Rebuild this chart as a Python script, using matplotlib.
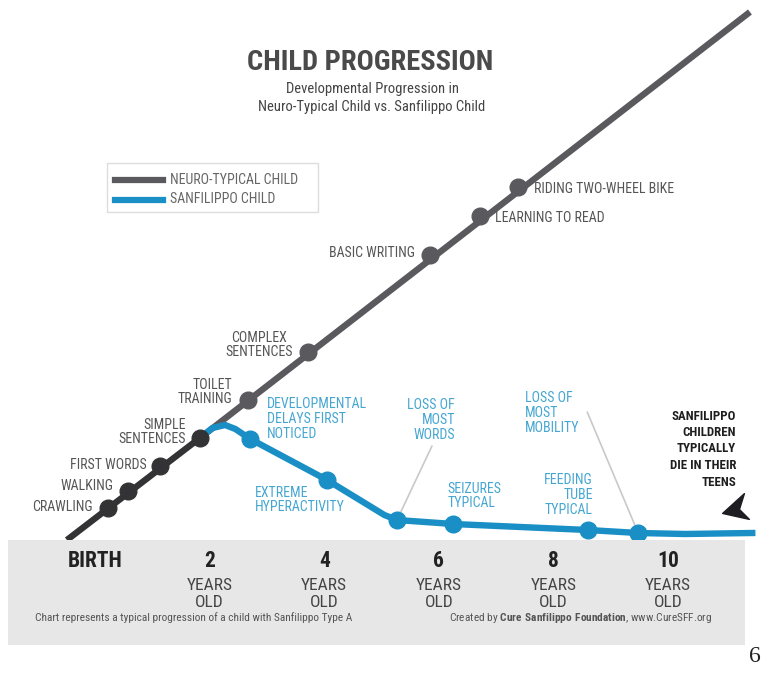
import matplotlib
matplotlib.use("Agg")
import matplotlib.pyplot as plt
from matplotlib import font_manager
from matplotlib.patches import Rectangle
from matplotlib.path import Path

# ---- data ---------------------------------------------------------------
# neuro-typical milestones: age (years), development level
neuro_labels = ["CRAWLING", "WALKING", "FIRST WORDS", "SIMPLE\nSENTENCES",
                "TOILET\nTRAINING", "COMPLEX\nSENTENCES", "BASIC WRITING",
                "LEARNING TO READ", "RIDING TWO-WHEEL BIKE"]
neuro_age = [0.23, 0.58, 1.13, 1.83, 2.67, 3.72, 5.85, 6.72, 7.38]
neuro_level = [0.64, 0.98, 1.48, 2.04, 2.80, 3.76, 5.70, 6.48, 7.06]
neuro_line_age = [-0.49, 11.43]
neuro_line_level = [0.0, 10.56]

# sanfilippo milestones
sanf_labels = ["DEVELOPMENTAL\nDELAYS FIRST\nNOTICED", "EXTREME\nHYPERACTIVITY",
               "LOSS OF\nMOST\nWORDS", "SEIZURES\nTYPICAL",
               "FEEDING\nTUBE\nTYPICAL", "LOSS OF\nMOST\nMOBILITY"]
sanf_age = [2.71, 4.05, 5.27, 6.25, 8.60, 9.48]
sanf_level = [2.02, 1.20, 0.40, 0.32, 0.20, 0.14]
# shape of the sanfilippo curve
sanf_line_age = [1.83, 2.05, 2.27, 2.45, 2.71, 4.05, 5.05, 5.27, 6.25, 8.60, 9.48, 10.3, 11.47]
sanf_line_level = [2.04, 2.24, 2.30, 2.22, 2.02, 1.20, 0.50, 0.40, 0.32, 0.20, 0.14, 0.12, 0.14]
end_point = [11.17, 0.66]

ages = [0, 2, 4, 6, 8, 10]
age_labels = ["BIRTH", "2", "4", "6", "8", "10"]

# ---- style --------------------------------------------------------------
names = {f.name for f in font_manager.fontManager.ttflist}
narrow = next((n for n in ["Roboto Condensed", "Liberation Sans Narrow",
                           "Open Sans Condensed", "Liberation Sans"] if n in names),
              "DejaVu Sans")
plt.rcParams["font.family"] = [narrow, "DejaVu Sans"]
plt.rcParams["mathtext.fontset"] = "custom"
plt.rcParams["mathtext.rm"] = narrow
plt.rcParams["mathtext.bf"] = narrow + ":bold"

GRAY = "#5a5a5e"
DARK = "#333335"
BLUE = "#1a8fc6"
BLUE_TXT = "#45a6d2"
TXT = "#555555"

W, H = 764, 673
fig = plt.figure(figsize=(W / 100, H / 100), dpi=100)
ax = fig.add_axes([0, 0, 1, 1])
ax.set_xlim(-95 / 57.3, (W - 95) / 57.3)
ax.set_ylim((540 - H) / 50, 540 / 50)
ax.axis("off")


def at(x, y):
    # pixel position -> figure fraction
    return x / W, 1 - y / H


# bottom band
ax.add_patch(Rectangle((-1.52, -2.1), 12.86, 2.1, color="#e7e7e7", zorder=5, lw=0))

# neuro-typical line: dark where both children follow the same path
split = neuro_level[3]
ax.plot([neuro_line_age[0], neuro_age[3]], [neuro_line_level[0], split],
        color=DARK, lw=4.6, solid_capstyle="butt", zorder=2)
ax.plot([neuro_age[3], neuro_line_age[1]], [split, neuro_line_level[1]],
        color=GRAY, lw=4.6, solid_capstyle="butt", zorder=2)
ax.plot(neuro_age[:4], neuro_level[:4], "o", color=DARK, ms=12, zorder=4)
ax.plot(neuro_age[4:], neuro_level[4:], "o", color=GRAY, ms=12, zorder=4)

# sanfilippo line
ax.plot(sanf_line_age, sanf_line_level, color=BLUE, lw=4.6,
        solid_joinstyle="round", zorder=3)
ax.plot(sanf_age, sanf_level, "o", color=BLUE, ms=12, zorder=4)

# neuro labels: offset in pixels, alignment
neuro_pos = [((-15, 1), "right"), ((-15, 5), "right"), ((-13, 1), "right"),
             ((-14, 6), "right"), ((-16, 8), "right"), ((-15, 7), "right"),
             ((-15, 2), "right"), ((15, -2), "left"), ((16, -2), "left")]
for lab, a, l, (off, ha) in zip(neuro_labels, neuro_age, neuro_level, neuro_pos):
    ma = "center" if lab.startswith("COMPLEX") else ha
    ax.annotate(lab, (a, l), xytext=off, textcoords="offset pixels",
                ha=ha, va="center", ma=ma, fontsize=10, color=TXT,
                linespacing=1.05, zorder=6)

sanf_pos = [((17, 20), "left", "left"), ((18, -20), "right", "left"),
            ((58, 100), "right", "right"), ((-6, 28), "left", "left"),
            ((5, 35), "right", "right"), ((-113, 120), "left", "left")]
for lab, a, l, (off, ha, ma) in zip(sanf_labels, sanf_age, sanf_level, sanf_pos):
    ax.annotate(lab, (a, l), xytext=off, textcoords="offset pixels",
                ha=ha, va="center", ma=ma, fontsize=10, color=BLUE_TXT,
                linespacing=1.05, zorder=6)

# leader lines
for i, off in [(2, (35, 74)), (5, (-51, 121))]:
    ax.annotate("", (sanf_age[i], sanf_level[i]), xytext=off,
                textcoords="offset pixels",
                arrowprops=dict(arrowstyle="-", color="#c9c9c9", lw=1.2,
                                shrinkA=0, shrinkB=6), zorder=1)

# end arrow
arrow = Path([(-13, -6), (9, 14), (4, -2), (14, -12), (-13, -6)],
             [Path.MOVETO, Path.LINETO, Path.LINETO, Path.LINETO, Path.CLOSEPOLY])
ax.plot(end_point[0], end_point[1], marker=arrow, ms=20, color="#1e1e22",
        lw=0, zorder=6)
fig.text(*at(736, 449), "SANFILIPPO\nCHILDREN\nTYPICALLY\nDIE IN THEIR\nTEENS",
         ha="right", va="center", ma="right", fontsize=9.3, fontweight="bold",
         color="#1e1e1e", linespacing=1.35)

# age axis in the band
for a, lab in zip(ages, age_labels):
    x = a * 57.3 + 95
    fig.text(*at(x, 561), lab, ha="center", va="center", fontsize=15.5,
             fontweight="bold", color="#222222", zorder=7)
    if a > 0:
        fig.text(*at(x, 594), "YEARS\nOLD", ha="center", va="center",
                 fontsize=12.5, color="#444444", linespacing=1.2, zorder=7)

# titles
fig.text(*at(370, 62), "CHILD PROGRESSION", ha="center", va="center",
         fontsize=20.5, fontweight="bold", color="#4a4a4a")
fig.text(*at(372, 98), "Developmental Progression in\nNeuro-Typical Child vs. Sanfilippo Child",
         ha="center", va="center", fontsize=10.5, color="#444444", linespacing=1.35)

# legend box
fig.patches.append(Rectangle(at(107, 212), 211 / W, 49 / H, transform=fig.transFigure,
                             fill=False, ec="#dddddd", lw=1))
fig.add_artist(plt.Line2D([115 / W, 163 / W], [1 - 180 / H] * 2, color=GRAY, lw=4.5))
fig.add_artist(plt.Line2D([115 / W, 163 / W], [1 - 200 / H] * 2, color=BLUE, lw=4.5))
fig.text(*at(170, 180), "NEURO-TYPICAL CHILD", ha="left", va="center",
         fontsize=10, color="#666666")
fig.text(*at(170, 199), "SANFILIPPO CHILD", ha="left", va="center",
         fontsize=10, color="#666666")

# footer
fig.text(*at(35, 618), "Chart represents a typical progression of a child with Sanfilippo Type A",
         ha="left", va="center", fontsize=8.2, color="#555555", zorder=7)
fig.text(*at(712, 618), "Created by $\\mathbf{Cure\\ Sanfilippo\\ Foundation}$, www.CureSFF.org",
         ha="right", va="center", fontsize=8.2, color="#555555", zorder=7)
fig.text(*at(749, 657), "6", ha="left", va="center", fontsize=17,
         family="Liberation Serif", color="#222222")

fig.savefig("out.png", dpi=100)
